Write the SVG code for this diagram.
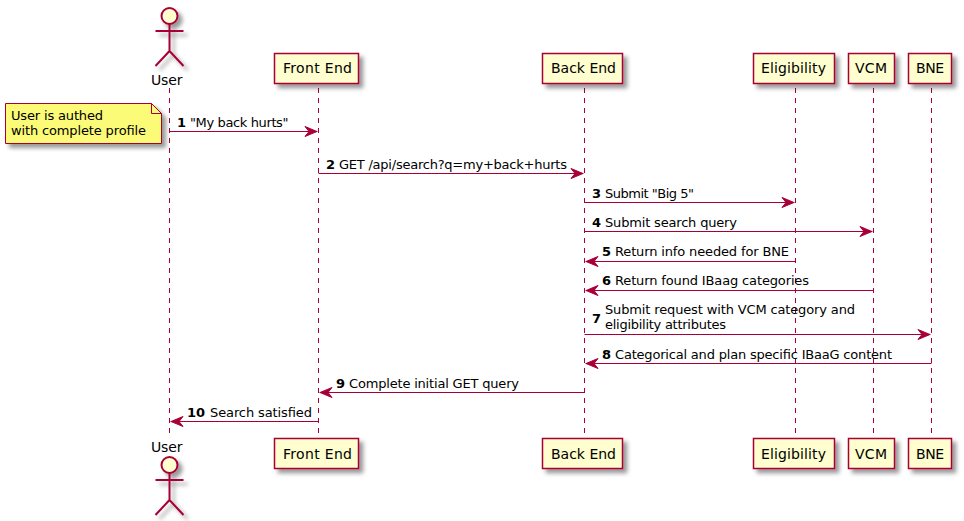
<svg xmlns="http://www.w3.org/2000/svg" width="964" height="521" viewBox="0 0 964 521">
<style>
text{font-family:"DejaVu Sans",sans-serif;font-size:13px;fill:#000}
.p{font-size:14px}
.b{font-weight:700}
.box{fill:#FEFECE;stroke:#A80036;stroke-width:1.5}
.act{fill:none;stroke:#A80036;stroke-width:2}
.life{stroke:#A80036;stroke-width:1;stroke-dasharray:5,5;fill:none}
.msg{stroke:#A80036;stroke-width:1;fill:none}
.hd{fill:#A80036;stroke:#A80036;stroke-width:1}
</style>
<defs>
<filter id="sh" x="-30%" y="-30%" width="170%" height="170%"><feGaussianBlur in="SourceAlpha" stdDeviation="2" result="b"/><feOffset in="b" dx="4" dy="4" result="o"/><feFlood flood-color="#000" flood-opacity="0.4"/><feComposite in2="o" operator="in" result="s"/><feMerge><feMergeNode in="s"/><feMergeNode in="SourceGraphic"/></feMerge></filter>
<marker id="r" markerUnits="userSpaceOnUse" markerWidth="16" markerHeight="12" refX="12.500" refY="5" orient="auto" overflow="visible"><path class="hd" d="M0,0L12,5L0,10L4,5Z"/></marker>
<g id="stick"><circle cx="0" cy="0" r="8" fill="#FEFECE" stroke="#A80036" stroke-width="2"/><path class="act" d="M0,8V35M-14,15H14M0,35L-14,50M0,35L14,50"/></g>
</defs>
<g id="connectors">
<path class="life" d="M169.500,88V437"/><path class="life" d="M318.500,88V437"/><path class="life" d="M584.500,88V437"/><path class="life" d="M795.500,88V437"/><path class="life" d="M873.500,88V437"/><path class="life" d="M931.500,88V437"/>
<line class="msg" x1="169.500" y1="131.500" x2="317.500" y2="131.500" marker-end="url(#r)"/>
<line class="msg" x1="318.500" y1="173.500" x2="583.500" y2="173.500" marker-end="url(#r)"/>
<line class="msg" x1="584.500" y1="202.500" x2="794.500" y2="202.500" marker-end="url(#r)"/>
<line class="msg" x1="584.500" y1="231.500" x2="872.500" y2="231.500" marker-end="url(#r)"/>
<line class="msg" x1="795.500" y1="261.500" x2="585.500" y2="261.500" marker-end="url(#r)"/>
<line class="msg" x1="873.500" y1="290.500" x2="585.500" y2="290.500" marker-end="url(#r)"/>
<line class="msg" x1="584.500" y1="334.500" x2="930.500" y2="334.500" marker-end="url(#r)"/>
<line class="msg" x1="931.500" y1="363.500" x2="585.500" y2="363.500" marker-end="url(#r)"/>
<line class="msg" x1="584.500" y1="392.500" x2="319.500" y2="392.500" marker-end="url(#r)"/>
<line class="msg" x1="318.500" y1="421.500" x2="170.500" y2="421.500" marker-end="url(#r)"/>
</g>
<g id="labels">
<text class="b" x="177" y="127">1</text><text x="190" y="127" textLength="98.500">"My back hurts"</text>
<text class="b" x="326" y="169">2</text><text x="339" y="169" textLength="228">GET /api/search?q=my+back+hurts</text>
<text class="b" x="592" y="198">3</text><text x="605" y="198" textLength="89">Submit "Big 5"</text>
<text class="b" x="592" y="227">4</text><text x="605" y="227" textLength="132">Submit search query</text>
<text class="b" x="602" y="256">5</text><text x="615" y="256" textLength="174">Return info needed for BNE</text>
<text class="b" x="602" y="285">6</text><text x="615" y="285" textLength="194">Return found IBaag categories</text>
<text class="b" x="592" y="323">7</text>
<text x="605" y="314" textLength="250">Submit request with VCM category and</text>
<text x="605" y="329" textLength="121">eligibility attributes</text>
<text class="b" x="602" y="359">8</text><text x="615" y="359" textLength="277">Categorical and plan specific IBaaG content</text>
<text class="b" x="336" y="388">9</text><text x="349" y="388" textLength="170">Complete initial GET query</text>
<text class="b" x="187" y="417">10</text><text x="210" y="417" textLength="102">Search satisfied</text>
</g>
<g id="note"><path d="M5.500,103.500H151.500L161.500,113.500V143.500H5.500Z" fill="#FBFB77" stroke="#A80036" filter="url(#sh)"/><path d="M151.500,103.500V113.500H161.500" fill="none" stroke="#A80036"/><text x="11" y="120" textLength="92">User is authed</text><text x="11" y="135" textLength="135">with complete profile</text></g>
<g id="user-top"><use href="#stick" x="169.500" y="16" filter="url(#sh)"/><text class="p" x="151" y="85" textLength="31.500">User</text></g>
<g id="user-bottom"><use href="#stick" x="169.500" y="465" filter="url(#sh)"/><text class="p" x="151" y="452" textLength="31.500">User</text></g>
<g id="frontend-top"><rect class="box" x="274.500" y="53.500" width="84" height="30" filter="url(#sh)"/><text class="p" x="283" y="73" textLength="69">Front End</text></g>
<g id="backend-top"><rect class="box" x="542.500" y="53.500" width="80" height="30" filter="url(#sh)"/><text class="p" x="551" y="73" textLength="65">Back End</text></g>
<g id="eligibility-top"><rect class="box" x="753.500" y="53.500" width="81" height="30" filter="url(#sh)"/><text class="p" x="761" y="73" textLength="65">Eligibility</text></g>
<g id="vcm-top"><rect class="box" x="848.500" y="53.500" width="46" height="30" filter="url(#sh)"/><text class="p" x="855" y="73" textLength="32">VCM</text></g>
<g id="bne-top"><rect class="box" x="908.500" y="53.500" width="43" height="30" filter="url(#sh)"/><text class="p" x="916" y="73" textLength="28">BNE</text></g>
<g id="frontend-bottom"><rect class="box" x="274.500" y="438.500" width="84" height="30" filter="url(#sh)"/><text class="p" x="283" y="459" textLength="69">Front End</text></g>
<g id="backend-bottom"><rect class="box" x="542.500" y="438.500" width="80" height="30" filter="url(#sh)"/><text class="p" x="551" y="459" textLength="65">Back End</text></g>
<g id="eligibility-bottom"><rect class="box" x="753.500" y="438.500" width="81" height="30" filter="url(#sh)"/><text class="p" x="761" y="459" textLength="65">Eligibility</text></g>
<g id="vcm-bottom"><rect class="box" x="848.500" y="438.500" width="46" height="30" filter="url(#sh)"/><text class="p" x="855" y="459" textLength="32">VCM</text></g>
<g id="bne-bottom"><rect class="box" x="908.500" y="438.500" width="43" height="30" filter="url(#sh)"/><text class="p" x="916" y="459" textLength="28">BNE</text></g>
</svg>
